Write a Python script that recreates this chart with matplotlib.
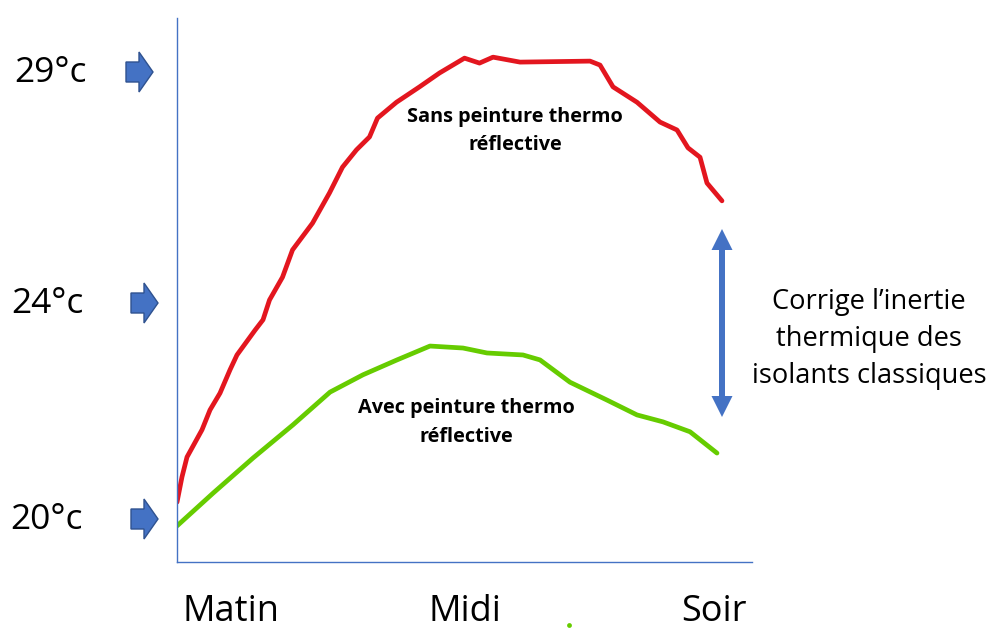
import matplotlib.pyplot as plt
from matplotlib.patches import Polygon

plt.rcParams['font.family'] = ['Open Sans', 'DejaVu Sans']

# time of day as % of the displayed span (Matin -> Soir)
red_x = [0, 0.87, 1.74, 4.35, 5.74, 7.48, 9.22, 10.43, 13.57, 14.96, 16.09,
         18.35, 20.09, 23.57, 26.52, 28.78, 31.22, 33.48, 34.87, 38.17, 42.17,
         45.65, 50.0, 52.61, 54.96, 59.65, 71.83, 73.57, 75.83, 80.0, 84.0,
         86.96, 88.87, 90.96, 92.17, 94.78]
red_temp = [20.32, 20.83, 21.23, 21.78, 22.18, 22.52, 22.99, 23.29, 23.79,
            24.0, 24.40, 24.86, 25.41, 25.95, 26.56, 27.08, 27.43, 27.69,
            28.07, 28.39, 28.70, 28.98, 29.28, 29.18, 29.30, 29.20, 29.22,
            29.14, 28.70, 28.39, 27.99, 27.83, 27.47, 27.28, 26.76, 26.40]

green_x = [0, 6.26, 13.22, 20.17, 26.61, 32.35, 38.26, 44.0, 49.74, 53.91,
           60.17, 63.13, 68.35, 74.78, 80.0, 84.52, 89.22, 93.91]
green_temp = [19.84, 20.50, 21.21, 21.88, 22.54, 22.89, 23.19, 23.47, 23.43,
              23.33, 23.29, 23.19, 22.74, 22.38, 22.08, 21.94, 21.74, 21.31]

dot_x, dot_temp = 68.17, 17.84

temp_labels = ["29°c", "24°c", "20°c"]
time_labels = ["Matin", "Midi", "Soir"]

RED = "#E3161F"
GREEN = "#66CC00"
BLUE = "#4472C4"
BLUE_EDGE = "#2F528F"

W, H = 991, 631
fig = plt.figure(figsize=(W / 100, H / 100), dpi=100)

# overlay in pixel units for the slide-style annotations
ov = fig.add_axes([0, 0, 1, 1])
ov.set_xlim(0, W)
ov.set_ylim(H, 0)
ov.axis("off")

ax = fig.add_axes([177 / W, (H - 562) / H, 575 / W, 544 / H])
ax.set_xlim(0, 100)
ax.set_ylim(19.112, 30.09)
ax.patch.set_alpha(0)
for side in ("top", "right"):
    ax.spines[side].set_visible(False)
for side in ("left", "bottom"):
    ax.spines[side].set_color(BLUE)
    ax.spines[side].set_linewidth(1.0)
ax.set_xticks([])
ax.set_yticks([])

ax.plot(red_x, red_temp, color=RED, lw=3.4, solid_capstyle="round",
        solid_joinstyle="round")
ax.plot(green_x, green_temp, color=GREEN, lw=3.4, solid_capstyle="round",
        solid_joinstyle="round")
ax.scatter([dot_x], [dot_temp], s=12, color=GREEN, clip_on=False, lw=0)

ax.text(515, 131, "Sans peinture thermo\nréflective", transform=ov.transData,
        ha="center", va="center", fontsize=14.3, fontweight="bold",
        linespacing=1.5)
ax.text(466, 423, "Avec peinture thermo\nréflective", transform=ov.transData,
        ha="center", va="center", fontsize=14.3, fontweight="bold",
        linespacing=1.6)


def block_arrow(x0, yc):
    pts = [(x0, yc - 10), (x0 + 13, yc - 10), (x0 + 13, yc - 20),
           (x0 + 27, yc), (x0 + 13, yc + 20), (x0 + 13, yc + 10),
           (x0, yc + 10)]
    ov.add_patch(Polygon(pts, closed=True, facecolor=BLUE,
                         edgecolor=BLUE_EDGE, lw=1))


label_pos = [(50, 73, 126), (47, 304, 131), (47, 520, 131)]
for lab, (tx, ty, ax0) in zip(temp_labels, label_pos):
    ov.text(tx, ty, lab, ha="center", va="center", fontsize=25.5)
    block_arrow(ax0, ty - 1)

for lab, tx in zip(time_labels, [231, 465, 714]):
    ov.text(tx, 630, lab, ha="center", va="bottom", fontsize=26)

# double-headed arrow
xc, y_top, y_bot = 722, 229, 417
hw, sw, hl = 10.5, 3, 21
pts = [(xc, y_top), (xc + hw, y_top + hl), (xc + sw, y_top + hl),
       (xc + sw, y_bot - hl), (xc + hw, y_bot - hl), (xc, y_bot),
       (xc - hw, y_bot - hl), (xc - sw, y_bot - hl), (xc - sw, y_top + hl),
       (xc - hw, y_top + hl)]
ov.add_patch(Polygon(pts, closed=True, facecolor=BLUE, edgecolor="none"))

ov.text(869, 339, "Corrige l’inertie\nthermique des\nisolants classiques",
        ha="center", va="center", fontsize=19.6, linespacing=1.45)

fig.savefig("out.png", dpi=100)
